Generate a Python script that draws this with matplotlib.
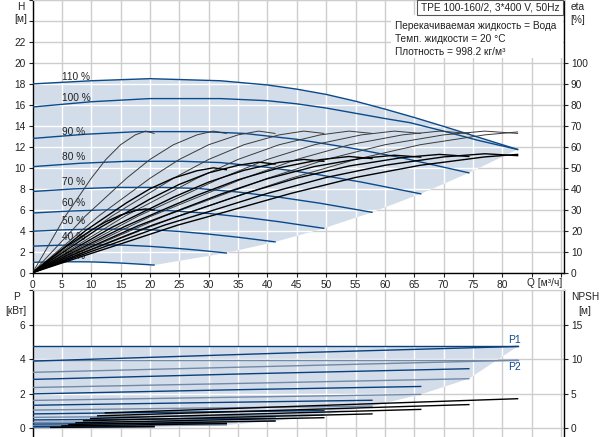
import numpy as np
import matplotlib
matplotlib.use("Agg")
from matplotlib import pyplot as plt
from matplotlib.patches import Polygon, Rectangle

plt.rcParams['font.family'] = ['Liberation Sans', 'DejaVu Sans']
plt.rcParams['font.size'] = 7.3

# speed curves (label, label height)
SPEEDS = ["110 %", "100 %", "90 %", "80 %", "70 %", "60 %", "50 %", "40 %", "25 %"]
LABEL_H = [18.7, 16.7, 13.4, 11.0, 8.65, 6.6, 4.9, 3.4, 1.6]

# Q-H curves [m3/h], [m]
QH_Q = [
    [0, 10, 20, 32, 40, 45, 50, 55, 60, 65, 70, 76, 82.6],
    [0, 10, 20, 32, 40, 45, 50, 55, 60, 64.3, 70, 76, 82.6],
    [0, 9, 18, 28.8, 36, 45, 54, 63, 74.3],
    [0, 8, 16, 25.6, 32, 40, 48, 56, 66.1],
    [0, 7, 14, 22.4, 28, 35, 42, 49, 57.8],
    [0, 6, 12, 19.2, 24, 30, 36, 42, 49.6],
    [0, 5, 10, 16, 20, 25, 30, 35, 41.3],
    [0, 4, 8, 12.8, 16, 20, 24, 28, 33],
    [0, 2.5, 5, 8, 10, 12.5, 15, 17.5, 20.7],
]
QH_H = [
    [18.0, 18.3, 18.5, 18.3, 17.9, 17.5, 17.0, 16.35, 15.6, 14.8, 13.95, 12.9, 11.75],
    [15.8, 16.3, 16.6, 16.6, 16.4, 16.1, 15.7, 15.2, 14.7, 14.3, 13.5, 12.6, 11.75],
    [12.8, 13.2, 13.45, 13.45, 13.28, 12.72, 11.91, 10.94, 9.52],
    [10.11, 10.43, 10.62, 10.62, 10.5, 10.05, 9.41, 8.64, 7.52],
    [7.74, 7.99, 8.13, 8.13, 8.04, 7.69, 7.2, 6.62, 5.76],
    [5.69, 5.87, 5.98, 5.98, 5.9, 5.65, 5.29, 4.86, 4.23],
    [3.95, 4.08, 4.15, 4.15, 4.1, 3.93, 3.68, 3.38, 2.94],
    [2.53, 2.61, 2.66, 2.66, 2.62, 2.51, 2.35, 2.16, 1.88],
    [0.99, 1.02, 1.04, 1.04, 1.03, 0.98, 0.92, 0.84, 0.73],
]

# efficiency curves [%], one flow list per speed
ETA_Q = [
    [0, 8.25, 16.5, 24.75, 33, 44, 55, 66, 77, 82.6],
    [0, 7.5, 15, 22.5, 30, 40, 50, 60, 70, 77, 82.6],
    [0, 6.75, 13.5, 20.25, 27, 36, 45, 54, 63, 69.3, 74.3],
    [0, 6, 12, 18, 24, 32, 40, 48, 56, 61.6, 66.1],
    [0, 5.25, 10.5, 15.75, 21, 28, 35, 42, 49, 53.9, 57.8],
    [0, 4.5, 9, 13.5, 18, 24, 30, 36, 42, 46.2, 49.6],
    [0, 3.75, 7.5, 11.25, 15, 20, 25, 30, 35, 38.5, 41.3],
    [0, 3, 6, 9, 12, 16, 20, 24, 28, 30.8, 33],
    [0, 1.9, 3.75, 5.6, 7.5, 10, 12.5, 15, 17.5, 19.25, 20.7],
]
ETA_110 = [0, 9, 18, 27, 34.7, 45, 54, 61, 65.7, 67.1]
ETA_BASE = [0, 9, 18, 27, 34.7, 45, 54, 61, 65.7, 67.5, 66.4]
ETA_PUMP = [ETA_110] + [ETA_BASE] * 8
ETA_TOTAL = [
    [0, 7.6, 15.1, 22.7, 29.1, 37.8, 45.4, 51.2, 55.2, 56.4],
    [0, 7.6, 15.1, 22.7, 29.1, 37.8, 45.4, 51.2, 55.2, 56.7, 55.8],
    [0, 7.5, 15.0, 22.5, 29.0, 37.6, 45.1, 50.9, 54.9, 56.4, 55.4],
    [0, 7.5, 14.9, 22.4, 28.8, 37.4, 44.8, 50.6, 54.5, 56.0, 55.1],
    [0, 7.4, 14.8, 22.1, 28.5, 36.9, 44.3, 50.0, 53.9, 55.4, 54.4],
    [0, 7.2, 14.4, 21.6, 27.8, 36.0, 43.2, 48.8, 52.6, 54.0, 53.1],
    [0, 7.0, 14.0, 21.1, 27.1, 35.1, 42.1, 47.6, 51.2, 52.7, 51.8],
    [0, 6.7, 13.3, 20.0, 25.7, 33.3, 40.0, 45.1, 48.6, 50.0, 49.1],
    [0, 4.1, 8.1, 12.2, 15.6, 20.3, 24.3, 27.5, 29.6, 30.4, 29.9],
]

# power curves [kW]
P_Q = [
    [0, 82.6],
    [0, 41.3, 82.6],
    [0, 37.2, 74.3],
    [0, 33, 66.1],
    [0, 28.9, 57.8],
    [0, 24.8, 49.6],
    [0, 20.7, 41.3],
    [0, 16.5, 33],
    [0, 10.3, 20.7],
]
P1 = [
    [4.75, 4.75],
    [3.9, 4.35, 4.75],
    [2.84, 3.17, 3.46],
    [2.0, 2.23, 2.43],
    [1.34, 1.49, 1.63],
    [0.84, 0.94, 1.03],
    [0.49, 0.54, 0.59],
    [0.25, 0.28, 0.30],
    [0.10, 0.11, 0.12],
]
P2 = [
    [3.95, 3.95],
    [3.25, 3.6, 3.95],
    [2.37, 2.62, 2.88],
    [1.62, 1.8, 1.97],
    [1.06, 1.18, 1.29],
    [0.64, 0.71, 0.78],
    [0.35, 0.39, 0.43],
    [0.17, 0.18, 0.2],
    [0.05, 0.06, 0.07],
]

# NPSH curves [m]
NPSH_Q = [
    [12.4, 82.6],
    [11.1, 74.3],
    [9.9, 66.1],
    [8.7, 57.8],
    [7.4, 49.6],
    [6.2, 41.3],
    [5.0, 33.0],
    [3.1, 20.7],
]
NPSH = [
    [2.25, 4.3],
    [1.82, 3.45],
    [1.44, 2.75],
    [1.1, 2.1],
    [0.81, 1.55],
    [0.56, 1.07],
    [0.36, 0.69],
    [0.14, 0.27],
]

W, H = 604, 437
BLUE = "#0b4a8a"
SHADE = "#d2dde9"
GRID = "#cdcdcd"
TXT = "#222222"

fig = plt.figure(figsize=(W / 100, H / 100), dpi=100)
ax = fig.add_axes([32.5 / W, 164.3 / H, (564 - 32.5) / W, 272.7 / H])
axb = fig.add_axes([32.5 / W, 0.0, (564 - 32.5) / W, 146.6 / H])


def white_grid(a, xs, ys, patch):
    for x in xs:
        ln = a.axvline(x, color="white", lw=1.0, zorder=1.2)
        ln.set_clip_path(patch)
    for y in ys:
        ln = a.axhline(y, color="white", lw=1.0, zorder=1.2)
        ln.set_clip_path(patch)


def style(a):
    a.set_axisbelow(True)
    a.grid(True, color=GRID, lw=1.0)
    for s in ("left", "right", "bottom"):
        a.spines[s].set_color("black")
        a.spines[s].set_linewidth(1.0)
    a.spines["top"].set_color(GRID)
    a.tick_params(colors=TXT, labelcolor=TXT, length=3, width=0.8, pad=2)


xt = list(range(0, 95, 5))

# ---- top: Q-H ----
style(ax)
ax.set_xlim(0, 90.5)
ax.set_ylim(0, 26)
ax.set_xticks(xt)
ax.set_xticklabels([str(v) if v <= 80 else "" for v in xt])
ax.set_yticks(range(0, 27, 2))
ax.set_yticklabels([str(v) if v <= 22 else "" for v in range(0, 27, 2)])

end_q = [q[-1] for q in QH_Q[2:]]
end_h = [h[-1] for h in QH_H[2:]]
pts = list(zip(QH_Q[0], QH_H[0])) + list(zip(end_q, end_h)) \
    + list(zip(QH_Q[-1][::-1], QH_H[-1][::-1]))[1:]
shade = Polygon(pts, closed=True, fc=SHADE, ec="none", zorder=1)
ax.add_patch(shade)
white_grid(ax, xt, range(0, 27, 2), shade)

for q, h in zip(QH_Q, QH_H):
    ax.plot(q, h, color=BLUE, lw=1.0, zorder=3)
for lab, y in zip(SPEEDS, LABEL_H):
    ax.text(5, y, lab, ha="left", va="center", color=TXT, zorder=4)

axr = ax.twinx()
axr.set_ylim(0, 130)
axr.set_yticks(range(0, 101, 10))
axr.tick_params(colors=TXT, length=3, width=0.8, pad=2)
for s in axr.spines.values():
    s.set_visible(False)
for q, e in zip(ETA_Q, ETA_PUMP):
    axr.plot(q, e, color="#3a3a3a", lw=0.7)
for q, e in zip(ETA_Q, ETA_TOTAL):
    axr.plot(q, e, color="black", lw=1.0)

# ---- bottom: power / NPSH ----
style(axb)
axb.spines["bottom"].set_visible(False)
axb.set_xlim(0, 90.5)
axb.set_ylim(-0.5, 8)
axb.set_xticks(xt)
axb.tick_params(axis="x", length=0, labelbottom=False)
axb.set_yticks([0, 2, 4, 6, 8])
axb.set_yticklabels(["0", "2", "4", "6", ""])

p2_end_q = [q[-1] for q in P_Q[2:]]
p2_end = [p[-1] for p in P2[2:]]
bpts = [(P_Q[0][0], P1[0][0]), (P_Q[0][-1], P1[0][-1])] \
    + list(zip(p2_end_q, p2_end)) + [(0, P2[-1][0])]
bshade = Polygon(bpts, closed=True, fc=SHADE, ec="none", zorder=1)
axb.add_patch(bshade)
white_grid(axb, xt, [0, 2, 4, 6], bshade)

for q, p in zip(P_Q, P2):
    axb.plot(q, p, color="#7489a6", lw=1.0, zorder=3)
for q, p in zip(P_Q, P1):
    axb.plot(q, p, color="#0a3f7c", lw=1.0, zorder=3)
axb.text(82.1, 5.1, "P1", color=BLUE, ha="center", va="center", fontsize=7.5)
axb.text(82.1, 3.55, "P2", color=BLUE, ha="center", va="center", fontsize=7.5)

axbr = axb.twinx()
axbr.set_ylim(-1.25, 20)
axbr.set_yticks([0, 5, 10, 15])
axbr.tick_params(colors=TXT, length=3, width=0.8, pad=2)
for s in axbr.spines.values():
    s.set_visible(False)
for q, n in zip(NPSH_Q, NPSH):
    axbr.plot(q, n, color="black", lw=1.0)

# ---- texts ----
def ftext(x, y, s, **kw):
    fig.text(x / W, 1 - y / H, s, color=TXT, **kw)


ftext(21, 7, "H", ha="center", va="center")
ftext(21, 19.5, "[м]", ha="center", va="center")
ftext(578, 7, "eta", ha="center", va="center")
ftext(578, 20, "[%]", ha="center", va="center")
ftext(16, 297, "P", ha="center", va="center")
ftext(16, 311, "[кВт]", ha="center", va="center")
ftext(585, 297, "NPSH", ha="center", va="center")
ftext(585, 311, "[м]", ha="center", va="center")
ftext(527, 283.5, "Q [м³/ч]", ha="left", va="center")

fig.add_artist(Rectangle((391 / W, 1 - 58 / H), (563 - 391) / W, 43 / H,
                         transform=fig.transFigure, fc="white", ec="none", zorder=1))
fig.add_artist(Rectangle((417 / W, 1 - 15 / H), (563 - 417) / W, 15 / H,
                         transform=fig.transFigure, fc="white", ec="#555555",
                         lw=0.8, zorder=2))
ftext(490, 8, "TPE 100-160/2, 3*400 V, 50Hz", ha="center", va="center")
ftext(395, 26, "Перекачиваемая жидкость = Вода", ha="left", va="center")
ftext(395, 39, "Темп. жидкости = 20 °C", ha="left", va="center")
ftext(395, 52, "Плотность = 998.2 кг/м³", ha="left", va="center")

fig.savefig("out.png", dpi=100)
